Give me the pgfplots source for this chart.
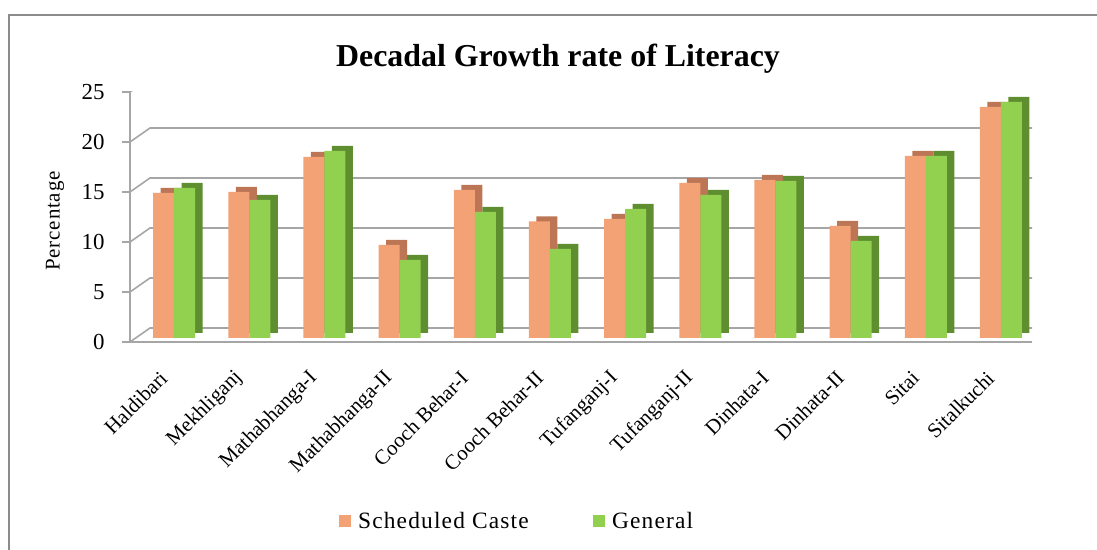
\documentclass[border=0pt]{standalone}
\usepackage{pgfplots}
\pgfplotsset{compat=1.18}
\usepackage{pgfplotstable}
\usepackage{fontspec}
\setmainfont{Liberation Serif}
\definecolor{scfront}{HTML}{F2A275}
\definecolor{scside}{HTML}{BC7655}
\definecolor{genfront}{HTML}{92D050}
\definecolor{genside}{HTML}{5F8E31}
\definecolor{gridc}{HTML}{A6A6A6}
\definecolor{framec}{HTML}{8C8C8C}
\pgfplotstableread{
idx sc gen
0 14.5 15.0
1 14.6 13.8
2 18.1 18.7
3 9.3 7.8
4 14.8 12.6
5 11.65 8.9
6 11.9 12.9
7 15.5 14.3
8 15.8 15.7
9 11.2 9.7
10 18.2 18.2
11 23.1 23.6
}\datatable
\begin{document}
\begin{tikzpicture}[x=1bp,y=1bp]
\path[use as bounding box] (0,0) rectangle (1097,550);
\draw[framec, line width=2bp] (9,0) -- (9,535) -- (1097,535);
\begin{axis}[
  at={(130bp,208bp)}, anchor=south west,
  scale only axis, width=902bp, height=250bp,
  xmin=-0.5, xmax=11.5, ymin=0, ymax=25,
  axis lines*=left,
  axis line style={gridc, line width=1.6bp},
  tick style={gridc, line width=1.6bp},
  /pgf/number format/assume math mode=true,
  ytick={0,5,...,25},
  ytick pos=left, tick align=outside,
  major tick length=8bp,
  yticklabel style={font=\fontsize{23}{24}\selectfont, xshift=-14bp},
  xtick={0,...,11},
  xticklabels={Haldibari,Mekhliganj,Mathabhanga-I,Mathabhanga-II,Cooch Behar-I,Cooch Behar-II,Tufanganj-I,Tufanganj-II,Dinhata-I,Dinhata-II,Sitai,Sitalkuchi},
  x tick style={draw=none},
  xticklabel style={font=\fontsize{21}{22}\selectfont, rotate=45, anchor=east, xshift=-2bp},
  xticklabel shift=21bp,
  extra x ticks={-0.5,0.5,...,11.5},
  extra x tick labels={},
  extra x tick style={tick style={gridc, line width=1.6bp}, major tick length=8bp},
  ylabel={Percentage},
  ylabel style={at={(axis description cs:-0.0831,0.484)}, anchor=center, font=\fontsize{21}{22}\selectfont\addfontfeatures{LetterSpace=4}},
  title={\textbf{Decadal Growth rate of Literacy}},
  title style={at={(axis description cs:0.4745,1.11)}, anchor=center, font=\fontsize{32}{34}\selectfont},
  ybar, bar width=21bp,
  legend columns=2,
  legend style={at={(axis description cs:0.429,-0.716)}, anchor=center, draw=none, fill=none,
    font=\fontsize{23.5}{25}\selectfont\addfontfeatures{LetterSpace=5},
    /tikz/every even column/.append style={column sep=62bp}},
  legend cell align=left,
]
% back wall and floor
\pgfplotsinvokeforeach{0,5,10,15,20,25}{
  \draw[gridc, line width=1.6bp] (axis cs:-0.5,#1) -- ++(20bp,14bp) -- ([xshift=20bp,yshift=14bp]axis cs:11.5,#1);
}
\draw[gridc, line width=1.6bp] (axis cs:11.5,0) -- ++(20bp,14bp);
% depth faces
\addplot[forget plot, fill=scside, draw=none, bar shift=-4bp, xshift=7.5bp, yshift=9bp] table[x=idx,y=sc]{\datatable};
\addplot[forget plot, fill=scfront, draw=none, bar shift=-4bp, yshift=4bp] table[x=idx,y=sc]{\datatable};
\addplot[forget plot, fill=genside, draw=none, bar shift=17bp, xshift=7.5bp, yshift=9bp] table[x=idx,y=gen]{\datatable};
\addplot[forget plot, fill=genfront, draw=none, bar shift=17bp, yshift=4bp] table[x=idx,y=gen]{\datatable};
\addlegendimage{legend image code/.code={\fill[scfront] (0bp,-5.5bp) rectangle (11bp,5.5bp); \path (17bp,0bp);}}
\addlegendentry{Scheduled Caste}
\addlegendimage{legend image code/.code={\fill[genfront] (0bp,-5.5bp) rectangle (11bp,5.5bp); \path (17bp,0bp);}}
\addlegendentry{General}
\end{axis}
\end{tikzpicture}
\end{document}
